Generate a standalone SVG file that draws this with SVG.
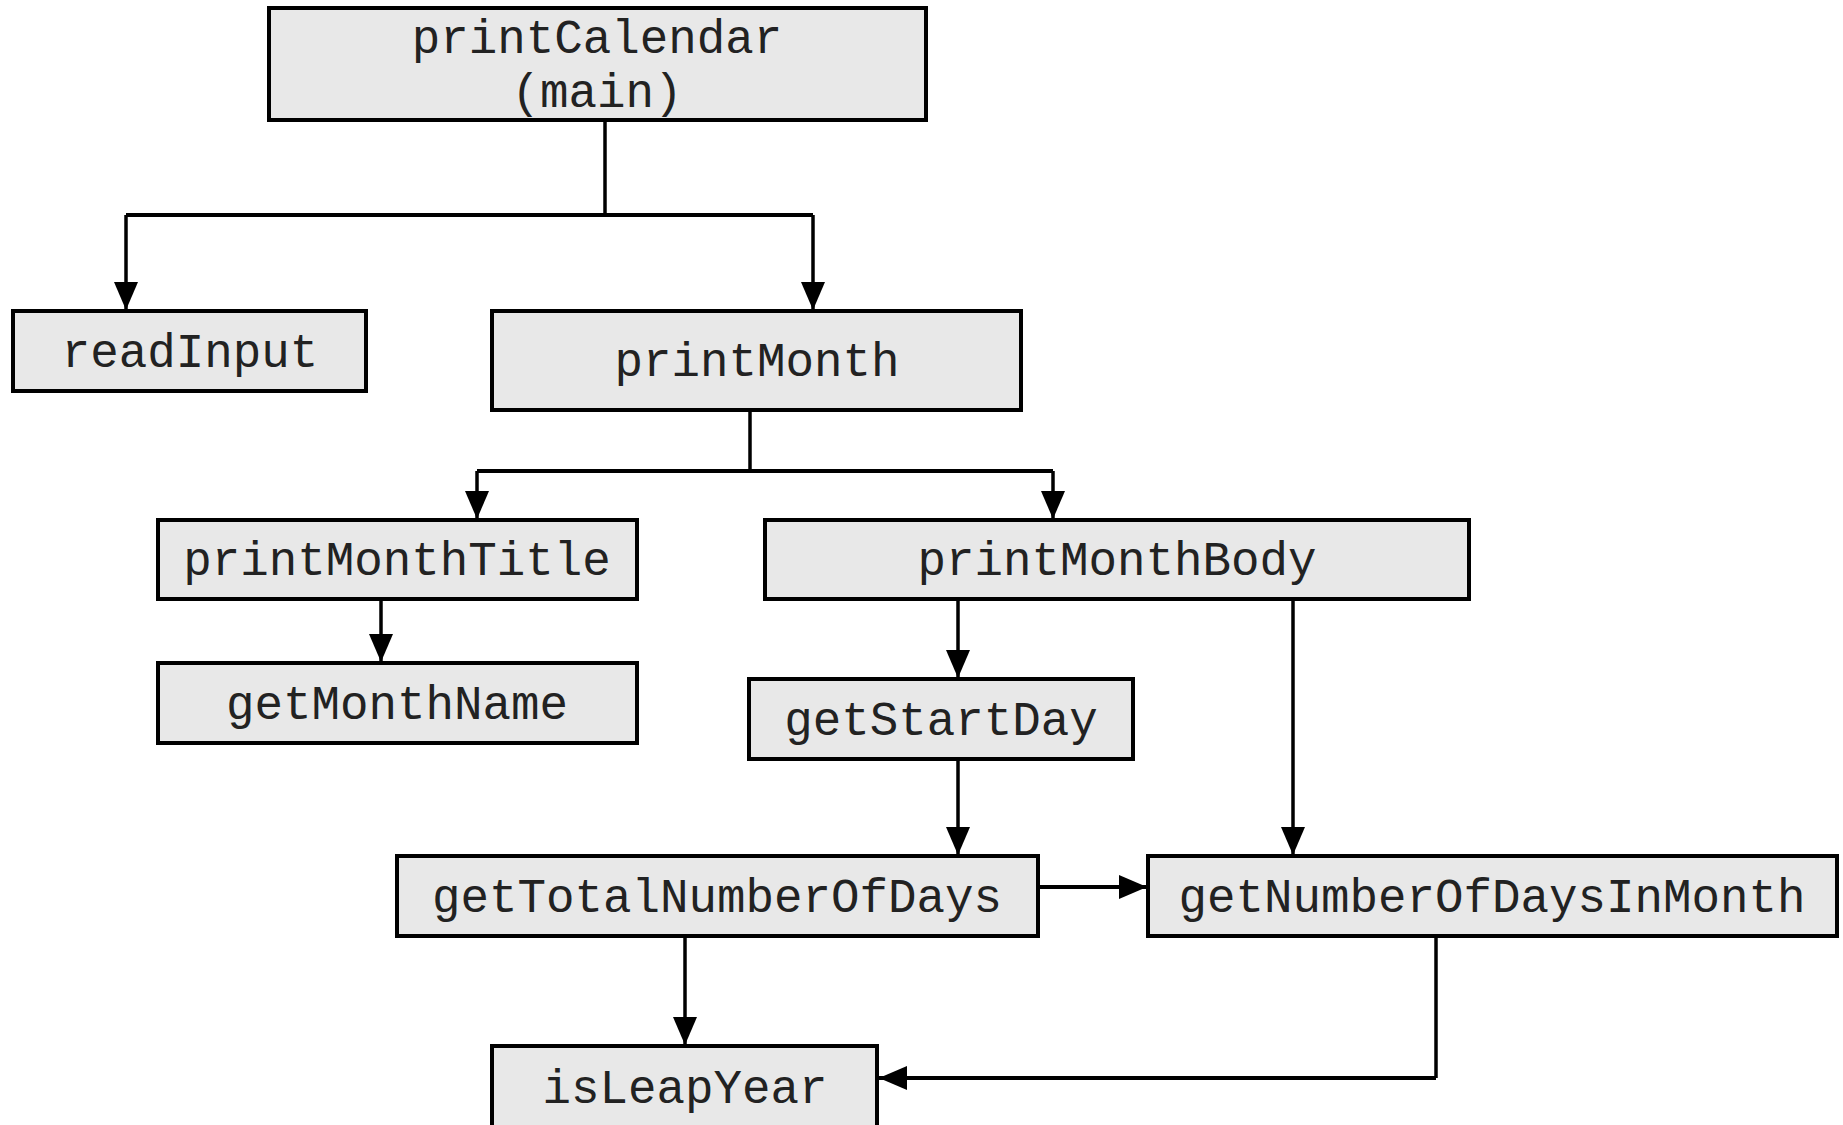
<svg xmlns="http://www.w3.org/2000/svg" width="1843" height="1125" viewBox="0 0 1843 1125">
  <style>
    .box { fill: #e8e8e8; stroke: #000; stroke-width: 4; }
    .lbl { font-family: "Liberation Mono", "Courier New", monospace; font-size: 47.5px; fill: #222; text-anchor: middle; }
    .wire { fill: none; stroke: #000; stroke-width: 3.5; stroke-linejoin: miter; }
    .bus { stroke-width: 4.2; }
  </style>
  <defs>
    <marker id="arrow" markerUnits="userSpaceOnUse" markerWidth="28" markerHeight="24" refX="28" refY="12" orient="auto">
      <path d="M0,0 L28,12 L0,24 z" fill="#000"/>
    </marker>
  </defs>
  <rect width="1843" height="1125" fill="#fff"/>

  <g id="connectors">
    <path class="wire" d="M605,120 V215"/>
    <path class="wire bus" d="M126,215 H813"/>
    <path class="wire" d="M126,215 V310" marker-end="url(#arrow)"/>
    <path class="wire" d="M813,215 V310" marker-end="url(#arrow)"/>

    <path class="wire" d="M750,410 V471"/>
    <path class="wire bus" d="M477,471 H1053"/>
    <path class="wire" d="M477,471 V519" marker-end="url(#arrow)"/>
    <path class="wire" d="M1053,471 V519" marker-end="url(#arrow)"/>

    <path class="wire" d="M381,599 V662" marker-end="url(#arrow)"/>
    <path class="wire" d="M958,599 V678" marker-end="url(#arrow)"/>
    <path class="wire" d="M1293,599 V855" marker-end="url(#arrow)"/>
    <path class="wire" d="M958,759 V855" marker-end="url(#arrow)"/>
    <path class="wire bus" d="M1038,887 H1147" marker-end="url(#arrow)"/>
    <path class="wire" d="M685,936 V1045" marker-end="url(#arrow)"/>
    <path class="wire" d="M1436,936 V1078"/>
    <path class="wire bus" d="M1436,1078 H879" marker-end="url(#arrow)"/>
  </g>

  <g id="printCalendar">
    <rect class="box" x="269" y="8" width="657" height="112"/>
    <text class="lbl" x="597" y="53">printCalendar</text>
    <text class="lbl" x="597" y="107">(main)</text>
  </g>
  <g id="readInput">
    <rect class="box" x="13" y="311" width="353" height="80"/>
    <text class="lbl" x="190" y="367">readInput</text>
  </g>
  <g id="printMonth">
    <rect class="box" x="492" y="311" width="529" height="99"/>
    <text class="lbl" x="757" y="376">printMonth</text>
  </g>
  <g id="printMonthTitle">
    <rect class="box" x="158" y="520" width="479" height="79"/>
    <text class="lbl" x="397" y="575">printMonthTitle</text>
  </g>
  <g id="printMonthBody">
    <rect class="box" x="765" y="520" width="704" height="79"/>
    <text class="lbl" x="1117" y="575">printMonthBody</text>
  </g>
  <g id="getMonthName">
    <rect class="box" x="158" y="663" width="479" height="80"/>
    <text class="lbl" x="397" y="719">getMonthName</text>
  </g>
  <g id="getStartDay">
    <rect class="box" x="749" y="679" width="384" height="80"/>
    <text class="lbl" x="941" y="735">getStartDay</text>
  </g>
  <g id="getTotalNumberOfDays">
    <rect class="box" x="397" y="856" width="641" height="80"/>
    <text class="lbl" x="717" y="912">getTotalNumberOfDays</text>
  </g>
  <g id="getNumberOfDaysInMonth">
    <rect class="box" x="1148" y="856" width="689" height="80"/>
    <text class="lbl" x="1492" y="912">getNumberOfDaysInMonth</text>
  </g>
  <g id="isLeapYear">
    <rect class="box" x="492" y="1046" width="385" height="84"/>
    <text class="lbl" x="685" y="1103">isLeapYear</text>
  </g>
</svg>
